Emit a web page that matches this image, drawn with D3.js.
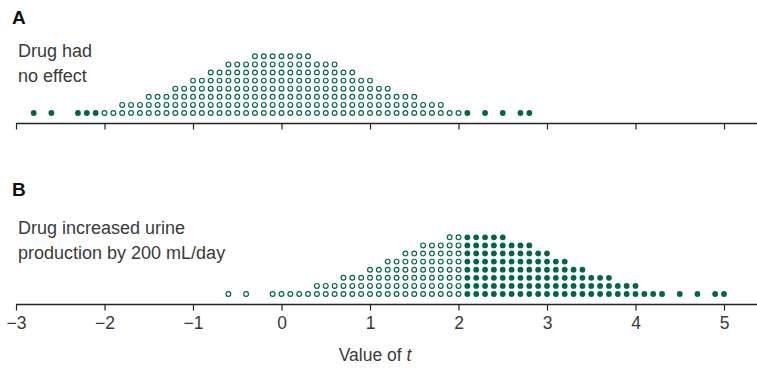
<!DOCTYPE html>
<html>
<head>
<meta charset="utf-8">
<script src="https://cdn.jsdelivr.net/npm/d3@7"></script>
<style>
  html, body { margin: 0; padding: 0; background: #fff; }
  svg { display: block; }
  text { font-family: "Liberation Sans", Arial, sans-serif; fill: #3a3a3a; }
</style>
</head>
<body>
<svg id="chart" width="757" height="372"></svg>
<script>
// ---- Data ----
const axisTicks = [-3, -2, -1, 0, 1, 2, 3, 4, 5];
const criticalT = 2.05; // |t| beyond this is drawn filled

// Panel A: drug had no effect (t value bins of 0.1, number of experiments)
const tA = [-2.8, -2.6, -2.3, -2.2, -2.1,
  -2.0, -1.9, -1.8, -1.7, -1.6, -1.5, -1.4, -1.3, -1.2, -1.1, -1.0,
  -0.9, -0.8, -0.7, -0.6, -0.5, -0.4, -0.3, -0.2, -0.1, 0.0,
  0.1, 0.2, 0.3, 0.4, 0.5, 0.6, 0.7, 0.8, 0.9, 1.0,
  1.1, 1.2, 1.3, 1.4, 1.5, 1.6, 1.7, 1.8, 1.9, 2.0,
  2.1, 2.3, 2.5, 2.7, 2.8];
const countsA = [1, 1, 1, 1, 1,
  1, 1, 2, 2, 2, 3, 3, 3, 4, 4, 5,
  5, 6, 6, 7, 7, 7, 8, 8, 8, 8,
  8, 8, 8, 7, 7, 7, 6, 6, 5, 5,
  4, 4, 3, 3, 3, 2, 2, 2, 1, 1,
  1, 1, 1, 1, 1];

// Panel B: drug increased urine production by 200 mL/day
const tB = [-0.6, -0.4, -0.1, 0.0, 0.1, 0.2, 0.3, 0.4, 0.5, 0.6, 0.7, 0.8, 0.9,
  1.0, 1.1, 1.2, 1.3, 1.4, 1.5, 1.6, 1.7, 1.8, 1.9, 2.0,
  2.1, 2.2, 2.3, 2.4, 2.5, 2.6, 2.7, 2.8, 2.9, 3.0,
  3.1, 3.2, 3.3, 3.4, 3.5, 3.6, 3.7, 3.8, 3.9, 4.0,
  4.1, 4.2, 4.3, 4.5, 4.7, 4.9, 5.0];
const countsB = [1, 1, 1, 1, 1, 1, 1, 2, 2, 2, 3, 3, 3,
  4, 4, 5, 5, 6, 6, 7, 7, 7, 8, 8,
  8, 8, 8, 8, 8, 7, 7, 7, 6, 6,
  5, 5, 4, 4, 3, 3, 3, 2, 2, 2,
  1, 1, 1, 1, 1, 1, 1];

const panels = [
  { letter: "A", lines: ["Drug had", "no effect"], t: tA, counts: countsA,
    letterY: 24, textY: 57, axisY: 123.5 },
  { letter: "B", lines: ["Drug increased urine", "production by 200 mL/day"], t: tB, counts: countsB,
    letterY: 196, textY: 234, axisY: 304.5 }
];

// ---- Drawing ----
const svg = d3.select("#chart");
const green = "#00664a";
const x = d3.scaleLinear().domain([-3, 5]).range([16, 724]);
const rowStep = 8.1;

panels.forEach((p, pi) => {
  const g = svg.append("g");
  g.append("text").attr("x", 12).attr("y", p.letterY)
    .attr("font-size", 19).attr("font-weight", "bold").style("fill", "#111")
    .text(p.letter);
  p.lines.forEach((ln, i) => {
    g.append("text").attr("x", 18).attr("y", p.textY + i * 24.5)
      .attr("font-size", 18).text(ln);
  });

  // dots
  const dots = [];
  p.t.forEach((tv, i) => {
    for (let k = 0; k < p.counts[i]; k++) dots.push({ t: tv, k });
  });
  const y0 = p.axisY - 10.5;
  g.selectAll("circle.d").data(dots).join("circle")
    .attr("class", "d")
    .attr("cx", d => x(d.t))
    .attr("cy", d => y0 - d.k * rowStep)
    .attr("r", d => Math.abs(d.t) > criticalT ? 2.9 : 2.4)
    .attr("fill", d => Math.abs(d.t) > criticalT ? green : "none")
    .attr("stroke", d => Math.abs(d.t) > criticalT ? "none" : green)
    .attr("stroke-width", 1.15);

  // axis
  const axis = d3.axisBottom(x).tickValues(axisTicks).tickSizeInner(6).tickSizeOuter(0)
    .tickFormat(pi === 1 ? (d => d < 0 ? "\u2212" + Math.abs(d) : String(d)) : "");
  const ag = g.append("g").attr("transform", `translate(0,${p.axisY})`).call(axis);
  ag.select(".domain").remove();
  ag.append("line").attr("x1", 16).attr("x2", 757).attr("y1", 0).attr("y2", 0)
    .attr("stroke", "#222").attr("stroke-width", 1.6);
  ag.selectAll(".tick line").attr("stroke", "#222").attr("stroke-width", 1.2);
  ag.selectAll(".tick text").attr("font-size", 17.5).attr("dy", "0.9em")
    .attr("font-family", "Liberation Sans, Arial, sans-serif").style("fill", "#3a3a3a");
});

svg.append("text").attr("x", 375).attr("y", 361).attr("text-anchor", "middle")
  .attr("font-size", 17.5)
  .call(t => {
    t.append("tspan").text("Value of ");
    t.append("tspan").attr("font-style", "italic").text("t");
  });
</script>
</body>
</html>
